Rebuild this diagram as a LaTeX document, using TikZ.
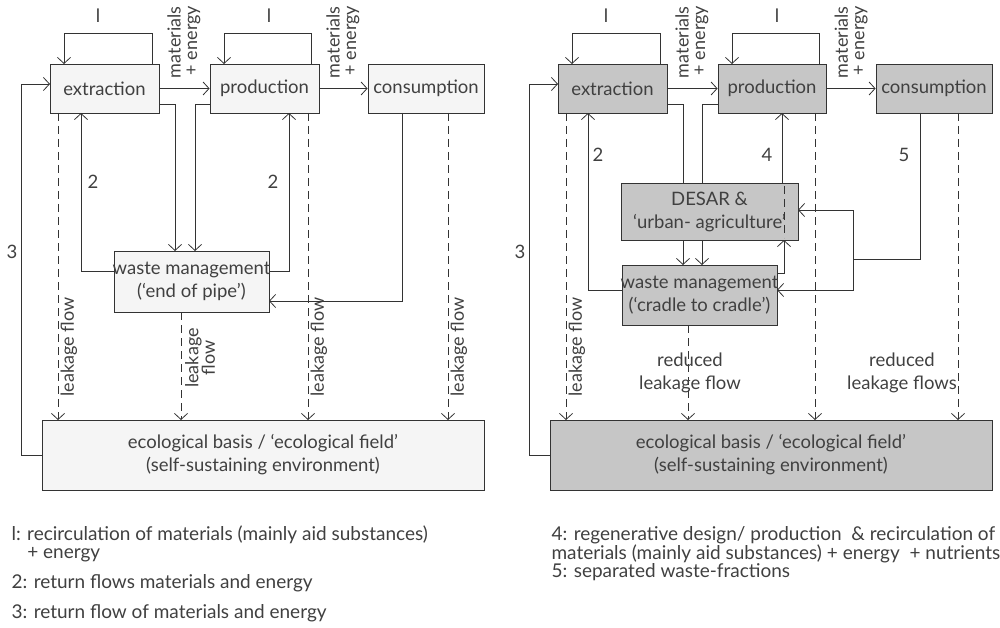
\documentclass[tikz,border=0pt]{standalone}
\usepackage{fontspec}
\setmainfont{Lato}
\usetikzlibrary{arrows.meta}
\begin{document}
\begin{tikzpicture}[x=1pt,y=-1pt,
  ar/.style={-{Straight Barb[length=6pt,width=13pt]},thick,draw=black!80},
  ln/.style={thick,draw=black!80},
  lk/.style={ar,dashed,dash pattern=on 8pt off 5pt},
  boxL/.style={draw=black!80,thick,fill=gray!8,inner sep=0pt},
  boxR/.style={draw=black!80,thick,fill=gray!45,inner sep=0pt},
  txt/.style={font=\fontsize{18.5}{23}\selectfont,text=black!75,align=center},
  sm/.style={font=\fontsize{18}{16.5}\selectfont,text=black!75,align=center},
  leg/.style={font=\fontsize{19}{18.5}\selectfont,text=black!75,anchor=west,align=left}]
\useasboundingbox (0,0) rectangle (1000,628);
% ===== LEFT =====
\node[boxL,minimum width=109,minimum height=49] (ex) at (104.5,88.5) {};
\node[txt] at (ex) {extraction};
\node[boxL,minimum width=109,minimum height=49] (pr) at (264.5,88.5) {};
\node[txt] at (pr) {production};
\node[boxL,minimum width=116,minimum height=49] (co) at (426,88.5) {};
\node[txt] at (co) {consumption};
\node[boxL,minimum width=155,minimum height=61] (wm) at (191.5,281.5) {};
\node[txt] at (wm) {waste management\\(‘end of pipe’)};
\node[boxL,minimum width=442,minimum height=70] (eco) at (263,455) {};
\node[txt] at (eco) {ecological basis / ‘ecological field’\\(self-sustaining environment)};
% loops
\draw[ar] (152,64) -- (152,33) -- (64,33) -- (64,64);
\draw[ar] (311,64) -- (311,33) -- (224,33) -- (224,64);
\node[txt] (l1a) at (98,16) {l};
\node[txt] (l1b) at (269,16) {l};
\node[sm,rotate=90,align=left] (me1) at (184,42) {materials\\\,+ energy};
\node[sm,rotate=90,align=left] (me2) at (343,42) {materials\\\,+ energy};
\draw[ar] (ex.east) -- (pr.west);
\draw[ar] (pr.east) -- (co.west);
\draw[ar] (159,104) -- (175,104) -- (175,251);
\draw[ar] (210,104) -- (195,104) -- (195,251);
\draw[ar] (114,271) -- (81,271) -- (81,113);
\draw[ar] (269,271) -- (289,271) -- (289,113);
\node[txt] at (93,182) {2};
\node[txt] at (273,182) {2};
\draw[ar] (402,113) -- (402,301) -- (269,301);
\draw[ar] (42,455) -- (21,455) -- (21,84) -- (50,84);
\node[txt] at (12,252) {3};
\draw[lk] (58,113) -- (58,420);
\draw[lk] (308,113) -- (308,420);
\draw[lk] (448,113) -- (448,420);
\draw[lk] (181,312) -- (181,420);
\node[sm,rotate=90] at (69,347) {leakage flow};
\node[sm,rotate=90] at (319,347) {leakage flow};
\node[sm,rotate=90] at (459,347) {leakage flow};
\node[sm,rotate=90] at (200,358) {leakage\\flow};
% ===== RIGHT =====
\node[boxR,minimum width=109,minimum height=49] (ex2) at (612.5,88.5) {};
\node[txt] at (ex2) {extraction};
\node[boxR,minimum width=108,minimum height=49] (pr2) at (772,88.5) {};
\node[txt] at (pr2) {production};
\node[boxR,minimum width=116,minimum height=49] (co2) at (934,88.5) {};
\node[txt] at (co2) {consumption};
\node[boxR,minimum width=177,minimum height=57] (de) at (709.5,211.5) {};
\node[txt] at (de) {DESAR \&\\‘urban- agriculture’};
\node[boxR,minimum width=155,minimum height=60] (wm2) at (699.5,295) {};
\node[txt] at (wm2) {waste management\\(‘cradle to cradle’)};
\node[boxR,minimum width=442,minimum height=70] (eco2) at (771,455) {};
\node[txt] at (eco2) {ecological basis / ‘ecological field’\\(self-sustaining environment)};
\draw[ar] (660,64) -- (660,33) -- (572,33) -- (572,64);
\draw[ar] (819,64) -- (819,33) -- (732,33) -- (732,64);
\node[txt] at (606,16) {l};
\node[txt] at (777,16) {l};
\node[sm,rotate=90,align=left] at (692,42) {materials\\\,+ energy};
\node[sm,rotate=90,align=left] at (851,42) {materials\\\,+ energy};
\draw[ar] (ex2.east) -- (pr2.west);
\draw[ar] (pr2.east) -- (co2.west);
\draw[ln] (667,104) -- (683,104) -- (683,183);
\draw[ln] (718,104) -- (702,104) -- (702,183);
\draw[ar] (683,240) -- (683,265);
\draw[ar] (702,240) -- (702,265);
\draw[ar] (782,183) -- (782,113);
\draw[ar] (777,273) -- (784,273) -- (784,240);
\draw[ar] (622,290) -- (588,290) -- (588,113);
\node[txt] at (598,155) {2};
\node[txt] at (767,155) {4};
\node[txt] at (904,155) {5};
\draw[ln] (920,113) -- (920,259) -- (853,259);
\draw[ar] (853,259) -- (853,210) -- (798,210);
\draw[ar] (853,259) -- (853,290) -- (777,290);
\draw[ar] (550,455) -- (529,455) -- (529,84) -- (558,84);
\node[txt] at (520,252) {3};
\draw[lk] (566,113) -- (566,420);
\draw[lk] (815,113) -- (815,420);
\draw[lk] (958,113) -- (958,420);
\draw[ln,dashed,dash pattern=on 8pt off 5pt] (784,186) -- (784,238);
\draw[lk] (688,325) -- (688,420);
\node[sm,rotate=90] at (577,347) {leakage flow};
\node[txt] at (690,373) {reduced\\leakage flow};
\node[txt] at (902,373) {reduced\\leakage flows};
% legends
\node[leg] at (8,544) {l: recirculation of materials (mainly aid substances)\\\phantom{l: }+ energy};
\node[leg] at (8,583) {2: return flows materials and energy};
\node[leg] at (8,613) {3: return flow of materials and energy};
\node[leg] at (548,554) {4: regenerative design/ production \ \& recirculation of\\materials (mainly aid substances) + energy \ + nutrients\\5: separated waste-fractions};
\end{tikzpicture}
\end{document}
